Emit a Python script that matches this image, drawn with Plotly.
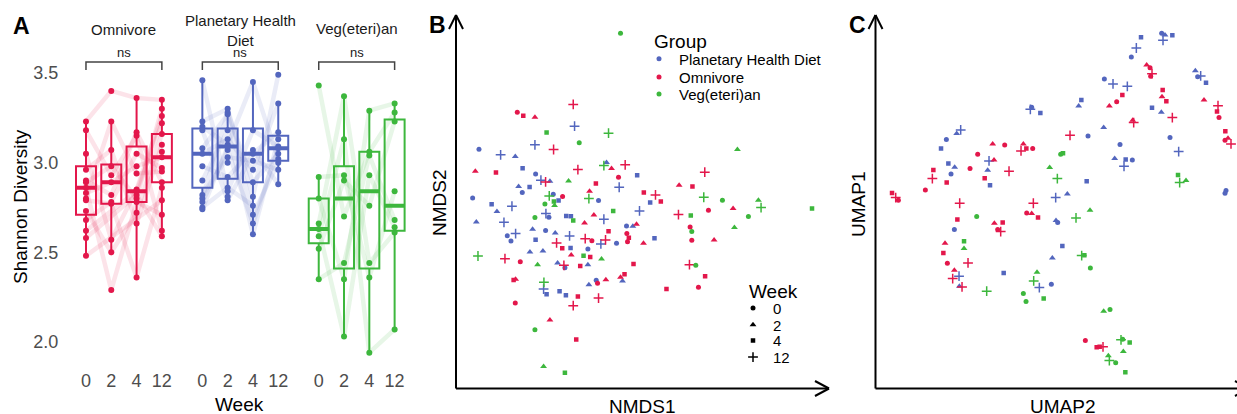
import plotly.graph_objects as go

W, H = 1237, 414
FONT = "Liberation Sans, Arial, Helvetica, sans-serif"

# ---------------- data ----------------
groups = ["Omnivore", "Planetary Health Diet", "Veg(eteri)an"]
colors = {"Omnivore": "#E3174B", "Planetary Health Diet": "#5366BE", "Veg(eteri)an": "#3DB73D"}
facet_titles = ["Omnivore", "Planetary Health<br>Diet", "Veg(eteri)an"]
weeks = [0, 2, 4, 12]
week_labels = ["0", "2", "4", "12"]
y_ticks = [2.0, 2.5, 3.0, 3.5]
sig_labels = ["ns", "ns", "ns"]

# Panel A: per-subject Shannon diversity at weeks 0, 2, 4, 12 (None = missing)
shannon_omnivore = [
    [3.23, 3.40, 3.36, 3.35], [3.18, 2.93, 3.15, 2.62], [3.05, 2.57, 2.85, 3.26],
    [2.96, 3.07, 2.66, 3.10], [2.90, 2.82, 3.17, 2.89], [2.89, 2.98, 2.80, 3.30],
    [2.86, 2.29, 2.78, 2.71], [2.83, 2.89, 2.98, 3.03], [2.80, 3.23, 2.94, 2.95],
    [2.79, 2.77, 2.36, 2.86], [2.73, 2.50, 2.72, 3.16], [2.68, 2.78, 3.05, 2.97],
    [2.62, None, 2.84, 3.22], [2.58, None, 2.82, 2.59], [2.48, None, None, 2.79],
    [None, None, None, 3.06],
]
shannon_phd = [
    [3.46, 2.84, 3.18, 3.09], [3.23, 3.30, 2.81, 3.49], [3.20, 3.10, 3.45, 3.02],
    [3.18, 2.79, 3.05, 3.17], [3.08, 3.27, 2.71, 3.00], [3.05, 3.13, 2.96, 3.33],
    [2.98, 2.92, 3.07, 2.88], [2.90, 3.18, 2.60, 3.13], [2.82, 3.03, 3.01, 2.96],
    [2.80, 3.28, 2.89, 3.05], [2.78, 3.07, 2.66, 3.08], [2.75, 2.86, 2.76, None],
    [2.74, 3.09, None, None], [None, 3.00, None, None], [None, 2.81, None, None],
]
shannon_veg = [
    [3.43, 2.70, 3.06, 3.28], [2.92, 2.93, 2.36, 2.84], [2.80, 2.35, 3.29, 3.33],
    [2.66, 3.37, 2.44, 2.61], [2.63, 2.03, 2.93, 2.64], [2.59, 3.13, 1.94, 2.07],
    [2.52, 2.90, 2.76, 3.23], [2.35, 2.44, 3.04, 2.68],
]
shannon = {"Omnivore": shannon_omnivore, "Planetary Health Diet": shannon_phd,
           "Veg(eteri)an": shannon_veg}

box_q1 = {"Omnivore": [2.71, 2.77, 2.78, 2.89], "Planetary Health Diet": [2.86, 2.91, 2.89, 3.01],
          "Veg(eteri)an": [2.55, 2.41, 2.41, 2.62]}
box_median = {"Omnivore": [2.86, 2.89, 2.84, 3.03], "Planetary Health Diet": [3.05, 3.09, 3.05, 3.08],
              "Veg(eteri)an": [2.63, 2.80, 2.84, 2.76]}
box_q3 = {"Omnivore": [2.98, 2.99, 3.09, 3.16], "Planetary Health Diet": [3.19, 3.19, 3.19, 3.15],
          "Veg(eteri)an": [2.80, 2.98, 3.06, 3.24]}
box_lower = {"Omnivore": [2.48, 2.50, 2.36, 2.59], "Planetary Health Diet": [2.74, 2.79, 2.60, 2.88],
             "Veg(eteri)an": [2.35, 2.03, 1.94, 2.07]}
box_upper = {"Omnivore": [3.23, 3.23, 3.36, 3.35], "Planetary Health Diet": [3.46, 3.30, 3.45, 3.33],
             "Veg(eteri)an": [2.92, 3.37, 3.29, 3.33]}

# Panel B: NMDS ordination (NMDS1, NMDS2, week)
nmds_phd_x = [-0.412, -0.65, -0.986, -0.856, -0.768, -0.724, -0.646, -0.22, -0.036, -0.614, -0.56, -0.144,
              -0.748, -0.682, -0.726, -1.024, -0.54, -0.508, -0.268, 0.042, -0.91, -0.878, -0.788, -0.584,
              -0.566, -0.462, -0.434, -0.022, -1.002, -0.836, -0.236, -0.664, -0.586, -0.528, -0.816,
              -0.766, -0.794, -0.646, -0.442, -0.1, -0.062, 0.068, -0.254, -0.16, -0.436, -0.332, -0.68,
              -0.602, -0.514, -0.47, -0.332, -0.598, -0.58, -0.502, -0.464, -0.282, -0.124, -0.326]
nmds_phd_y = [0.644, 0.532, 0.506, 0.472, 0.462, 0.392, 0.358, 0.426, 0.35, 0.32, 0.314, 0.278,
              0.282, 0.28, 0.246, 0.214, 0.236, 0.198, 0.198, 0.186, 0.176, 0.132, 0.164, 0.12,
              0.098, 0.106, 0.104, 0.136, 0.07, 0.068, 0.086, 0.026, 0.018, 0.004, -0.012,
              0.0, -0.044, -0.036, -0.014, 0.046, 0.044, -0.028, -0.062, -0.058, -0.086, -0.092, -0.11,
              -0.104, -0.176, -0.204, -0.186, -0.332, -0.364, -0.346, -0.37, -0.28, -0.284, -0.306]
nmds_phd_w = [12, 12, 0, 12, 2, 4, 0, 2, 4, 12, 2, 12,
              2, 4, 0, 0, 0, 4, 0, 4, 4, 2, 12, 12,
              0, 4, 4, 12, 2, 12, 12, 2, 0, 2, 0,
              12, 0, 4, 12, 0, 2, 4, 12, 0, 4, 0, 2,
              2, 2, 0, 2, 12, 4, 4, 4, 0, 2, 2]
nmds_omn_x = [-0.756, -0.72, -0.65, -0.42, -0.538, -1.008, -0.884, -0.392, -0.19, -0.108, -0.148, 0.37,
              -0.586, -0.284, 0.216, 0.296, -0.484, -0.322, 0.004, 0.074, 0.106, 0.392, 0.54, -0.352,
              -0.296, 0.212, 0.282, -0.208, -0.04, -0.098, -0.086, -0.094, -0.348, -0.308, -0.226,
              0.002, 0.292, 0.426, -0.52, -0.486, -0.83, -0.738, -0.432, -0.318, -0.476, -0.378,
              -0.058, 0.278, -0.778, -0.766, -0.392, -0.274, -0.224, -0.136, -0.112, -0.268, -0.42,
              0.14, 0.332, 0.372, -0.768, -0.56, -0.402]
nmds_omn_y = [0.728, 0.706, 0.698, 0.774, 0.504, 0.374, 0.366, 0.384, 0.39, 0.412, 0.338, 0.368,
              0.31, 0.3, 0.29, 0.282, 0.222, 0.254, 0.246, 0.232, 0.192, 0.14, 0.15, 0.064,
              0.112, 0.114, 0.04, 0.014, 0.056, 0.0, -0.024, -0.048, -0.03, -0.042, -0.038,
              -0.058, -0.04, -0.038, -0.056, -0.088, -0.15, -0.168, -0.128, -0.14, -0.19, -0.194,
              -0.182, -0.186, -0.278, -0.274, -0.376, -0.298, -0.276, -0.262, -0.244, -0.386, -0.432,
              -0.332, -0.322, -0.256, -0.416, -0.518, -0.634]
nmds_omn_w = [0, 4, 2, 12, 12, 2, 4, 12, 2, 12, 0, 12,
              12, 4, 2, 4, 0, 2, 4, 12, 4, 0, 2, 2,
              2, 12, 0, 4, 2, 0, 4, 0, 12, 0, 12,
              2, 0, 2, 12, 4, 12, 0, 2, 4, 12, 4,
              4, 12, 4, 2, 4, 0, 2, 2, 4, 12, 12,
              4, 0, 4, 0, 2, 4]
nmds_veg_x = [-0.136, -0.58, -0.208, -0.384, 0.566, -0.236, -0.448, -0.564, -0.536, -0.326, 0.364,
              0.476, 0.692, 0.708, 1.014, -0.59, -0.532, -0.65, -0.42, -0.18, 0.632, 0.286, 0.292,
              0.548, -0.992, -0.358, -0.25, -0.634, 0.316, -0.596, -0.65, -0.598, -0.47]
nmds_veg_y = [1.2, 0.606, 0.602, 0.544, 0.504, 0.408, 0.316, 0.226, 0.192, 0.21, 0.218,
              0.2, 0.2, 0.156, 0.15, 0.178, 0.168, 0.096, 0.078, 0.136, 0.102, 0.108, 0.012,
              0.036, -0.134, -0.132, -0.152, -0.186, -0.19, -0.292, -0.576, -0.796, -0.834]
nmds_veg_w = [0, 4, 12, 0, 2, 12, 2, 12, 4, 12, 12,
              0, 2, 12, 4, 0, 2, 0, 4, 4, 0, 4, 0,
              2, 12, 4, 2, 2, 0, 12, 0, 2, 4]

# Panel C: UMAP embedding (UMAP2 horizontal, UMAP1 vertical, week)
umap_phd_x = [8.03, 8.65, 8.75, 8.97, 8.69, 7.89, 7.74, 9.66, 9.82, 9.73, 9.98, 6.93, 7.19, 7.62,
              6.24, 6.16, 4.75, 4.71, 5.01, 8.36, 8.64, 6.91, 6.44, 2.62, 2.5, 2.19, 2.03, 7.4, 8.9,
              9.16, 3.47, 2.25, 2.44, 2.33, 3.43, 3.5, 7.24, 7.57, 7.77, 7.52, 6.4, 10.58, 10.55,
              5.47, 5.82, 5.48, 5.53, 2.43, 5.67, 5.37, 2.57, 3.91, 4.98, 5.34, 2.58]
umap_phd_y = [10.88, 11.0, 10.95, 10.94, 10.79, 10.56, 10.29, 9.88, 9.72, 9.7, 9.52, 9.63, 9.48, 9.41,
              9.0, 8.82, 8.78, 8.72, 8.61, 8.77, 8.63, 8.17, 7.92, 8.1, 7.99, 7.81, 7.54, 7.66, 7.87,
              7.45, 7.17, 7.09, 6.98, 6.78, 6.89, 6.44, 7.24, 7.21, 7.2, 7.01, 6.56, 6.28, 6.2,
              6.07, 6.18, 5.38, 5.32, 5.11, 4.62, 4.26, 3.71, 3.81, 3.37, 3.47, 3.41]
umap_phd_w = [4, 0, 2, 4, 12, 12, 0, 2, 12, 0, 4, 0, 12, 12,
              4, 2, 0, 12, 4, 4, 2, 2, 0, 12, 2, 0, 4, 0, 0,
              12, 12, 4, 2, 0, 2, 4, 2, 4, 0, 12, 4, 0, 0,
              12, 2, 2, 0, 0, 4, 2, 12, 4, 12, 0, 2]
umap_omn_x = [8.2, 8.3, 8.36, 8.32, 8.68, 8.66, 8.79, 7.47, 7.3, 7.08, 8.97, 9.92, 10.34, 10.31, 10.37,
              10.56, 10.64, 10.55, 10.73, 7.78, 7.81, 5.9, 3.58, 3.94, 4.5, 4.59, 4.78, 4.43, 3.13,
              3.62, 1.8, 1.77, 2.9, 4.07, 3.34, 2.2, 1.56, 0.56, 0.67, 0.75, 2.59, 4.8, 4.6, 4.75,
              4.94, 2.52, 3.63, 3.88, 3.73, 3.82, 2.15, 2.1, 2.22, 2.84, 2.43, 2.38, 2.66, 6.36,
              6.7, 6.89, 6.79]
umap_omn_y = [10.05, 9.97, 9.79, 9.71, 9.3, 9.1, 8.96, 9.15, 8.95, 8.82, 8.47, 9.0, 8.83, 8.65, 8.47,
              8.06, 7.85, 7.79, 7.68, 8.39, 8.32, 7.94, 7.68, 7.65, 7.68, 7.54, 7.54, 7.47, 7.37,
              7.2, 6.9, 6.64, 6.94, 6.86, 6.65, 6.52, 6.3, 6.21, 6.07, 5.99, 5.9, 5.9, 5.61, 5.59,
              5.47, 5.41, 5.3, 5.32, 5.11, 5.05, 4.7, 4.41, 4.1, 4.11, 3.89, 3.64, 3.39, 1.78,
              1.58, 1.59, 1.59]
umap_omn_w = [2, 0, 12, 0, 4, 2, 4, 4, 0, 2, 12, 2, 12, 4, 0,
              4, 2, 0, 12, 2, 12, 12, 2, 0, 2, 4, 0, 12, 0,
              2, 4, 12, 0, 12, 4, 4, 0, 4, 12, 0, 12, 12, 0, 2,
              4, 4, 2, 4, 0, 12, 2, 4, 0, 12, 2, 12, 12, 0,
              4, 12, 4]
umap_veg_x = [5.69, 5.62, 5.29, 5.52, 9.14, 9.19, 9.38, 3.1, 6.08, 6.5, 2.72, 2.72, 6.25, 6.33, 6.51,
              4.91, 4.81, 3.4, 4.5, 4.58, 5.11, 6.91, 7.1, 7.43, 7.48, 7.69, 7.5, 7.05, 7.08, 7.27, 7.56]
umap_veg_y = [7.4, 7.37, 6.97, 6.64, 6.75, 6.52, 6.58, 5.5, 5.46, 5.69, 4.76, 4.54, 4.33, 4.34, 3.96,
              3.83, 3.57, 3.26, 3.19, 2.95, 3.04, 2.66, 2.71, 1.8, 1.82, 1.72, 1.45, 1.32, 1.18, 1.11, 0.83]
umap_veg_w = [4, 0, 2, 12, 4, 12, 2, 0, 12, 2, 4, 2, 12, 4, 0,
              2, 12, 12, 0, 0, 4, 2, 0, 12, 0, 4, 2, 2, 12, 0, 4]

nmds = {"Planetary Health Diet": (nmds_phd_x, nmds_phd_y, nmds_phd_w),
        "Omnivore": (nmds_omn_x, nmds_omn_y, nmds_omn_w),
        "Veg(eteri)an": (nmds_veg_x, nmds_veg_y, nmds_veg_w)}
umap = {"Planetary Health Diet": (umap_phd_x, umap_phd_y, umap_phd_w),
        "Omnivore": (umap_omn_x, umap_omn_y, umap_omn_w),
        "Veg(eteri)an": (umap_veg_x, umap_veg_y, umap_veg_w)}
legend_groups = ["Planetary Health Diet", "Omnivore", "Veg(eteri)an"]

# ---------------- styling / layout helpers ----------------
def px(x):
    return x / W

def py(y):
    return 1 - y / H

def rgba(hexc, a):
    h = hexc.lstrip("#")
    return f"rgba({int(h[0:2],16)},{int(h[2:4],16)},{int(h[4:6],16)},{a})"

week_style = {0: ("circle", 5, 0), 2: ("triangle-up", 6, 0), 4: ("square", 4.5, 0), 12: ("cross-thin", 7, 1.5)}
facet_offset = [0.0, 4.6, 9.2]
box_w = 0.79

fig = go.Figure()

# ---------------- Panel A ----------------
for gi, g in enumerate(groups):
    c = colors[g]
    pos = [facet_offset[gi] + i for i in range(len(weeks))]
    # subject trajectories
    lx, ly = [], []
    for subj in shannon[g]:
        pts = [(pos[i], v) for i, v in enumerate(subj) if v is not None]
        if len(pts) > 1:
            lx += [p[0] for p in pts] + [None]
            ly += [p[1] for p in pts] + [None]
    fig.add_trace(go.Scatter(x=lx, y=ly, mode="lines", line=dict(color=rgba(c, 0.12), width=4.5),
                             hoverinfo="skip", showlegend=False, xaxis="x", yaxis="y"))
    # boxes
    fig.add_trace(go.Box(x=pos, q1=box_q1[g], median=box_median[g], q3=box_q3[g],
                         lowerfence=box_lower[g], upperfence=box_upper[g], orientation="v",
                         width=box_w, whiskerwidth=0, boxpoints=False,
                         line=dict(color=c, width=2), fillcolor="rgba(255,255,255,0)",
                         hoverinfo="skip", showlegend=False, xaxis="x", yaxis="y"))
    # thick median bars
    mx, my = [], []
    for p, m in zip(pos, box_median[g]):
        mx += [p - box_w / 2, p + box_w / 2, None]
        my += [m, m, None]
    fig.add_trace(go.Scatter(x=mx, y=my, mode="lines", line=dict(color=c, width=4),
                             hoverinfo="skip", showlegend=False, xaxis="x", yaxis="y"))
    # points
    ptx, pty = [], []
    for subj in shannon[g]:
        for i, v in enumerate(subj):
            if v is not None:
                ptx.append(pos[i]); pty.append(v)
    fig.add_trace(go.Scatter(x=ptx, y=pty, mode="markers", marker=dict(color=c, size=6),
                             hoverinfo="skip", showlegend=False, xaxis="x", yaxis="y"))

# ---------------- Panels B & C ----------------
def add_scatter(data, xa, ya):
    for g in legend_groups:
        xs, ys, ws = data[g]
        for wk in weeks:
            sx = [x for x, w in zip(xs, ws) if w == wk]
            sy = [y for y, w in zip(ys, ws) if w == wk]
            sym, size, lw = week_style[wk]
            fig.add_trace(go.Scatter(
                x=sx, y=sy, mode="markers", xaxis=xa, yaxis=ya, showlegend=False, hoverinfo="skip",
                marker=dict(symbol=sym, size=size, color=colors[g],
                            line=dict(color=colors[g], width=lw))))

add_scatter(nmds, "x2", "y2")
add_scatter(umap, "x3", "y3")

# legend entries (one legend box per entry to mimic ggplot spacing)
legend_layouts = {}
group_rows = [59, 77.3, 94.3]
for i, g in enumerate(legend_groups):
    lname = "legend" if i == 0 else f"legend{i+1}"
    fig.add_trace(go.Scatter(x=[None], y=[None], mode="markers", name=g, legend=lname,
                             marker=dict(symbol="circle", size=5, color=colors[g]),
                             xaxis="x2", yaxis="y2", showlegend=True))
    legend_layouts[lname] = dict(x=px(639), y=py(group_rows[i]), xanchor="left", yanchor="middle",
                                 bgcolor="rgba(0,0,0,0)", font=dict(family=FONT, size=15, color="black"),
                                 itemclick=False, itemdoubleclick=False)
week_rows = [308.3, 325, 340.7, 357.3]
for i, wk in enumerate(weeks):
    lname = f"legend{i+4}"
    sym, size, lw = week_style[wk]
    fig.add_trace(go.Scatter(x=[None], y=[None], mode="markers", name=week_labels[i], legend=lname,
                             marker=dict(symbol=sym, size=size, color="black",
                                         line=dict(color="black", width=lw)),
                             xaxis="x2", yaxis="y2", showlegend=True))
    legend_layouts[lname] = dict(x=px(733), y=py(week_rows[i]), xanchor="left", yanchor="middle",
                                 bgcolor="rgba(0,0,0,0)", font=dict(family=FONT, size=15, color="black"),
                                 itemclick=False, itemdoubleclick=False)

# ---------------- axes ----------------
hidden = dict(visible=False, showgrid=False, zeroline=False)
tickvals_a = [facet_offset[gi] + i for gi in range(3) for i in range(4)]
ticktext_a = week_labels * 3

layout = dict(
    width=W, height=H, margin=dict(l=0, r=0, t=0, b=0),
    paper_bgcolor="white", plot_bgcolor="white",
    font=dict(family=FONT, color="black"),
    xaxis=dict(domain=[px(70.8), px(409.8)], range=[-0.6, 12.8], tickvals=tickvals_a,
               ticktext=ticktext_a, showgrid=False, zeroline=False, showline=False,
               ticks="", tickfont=dict(family=FONT, size=18, color="#4D4D4D"), anchor="y"),
    yaxis=dict(domain=[py(368), py(45)], range=[1.8547, 3.656], tickvals=y_ticks,
               ticktext=[f"{v:.1f}" for v in y_ticks], showgrid=False, zeroline=False,
               showline=False, ticks="outside", ticklen=8, tickcolor="rgba(0,0,0,0)",
               tickfont=dict(family=FONT, size=18, color="#4D4D4D"), anchor="x"),
    xaxis2=dict(domain=[px(456), px(829)], range=[-1.124, 1.116], anchor="y2", **hidden),
    yaxis2=dict(domain=[py(388.5), py(18)], range=[-0.928, 1.292], anchor="x2", **hidden),
    xaxis3=dict(domain=[px(875.7), 1.0], range=[0.07, 10.91], anchor="y3", **hidden),
    yaxis3=dict(domain=[py(388.5), py(18)], range=[0.34, 11.46], anchor="x3", **hidden),
)
layout.update(legend_layouts)
fig.update_layout(**layout)

# ---------------- shapes ----------------
shapes = []
# significance brackets
for gi in range(3):
    x0 = facet_offset[gi]
    x1 = facet_offset[gi] + 3
    shapes.append(dict(type="path", xref="x", yref="y",
                       path=f"M {x0},3.517 L {x0},3.561 L {x1},3.561 L {x1},3.517",
                       line=dict(color="#444444", width=1.5)))

def seg(x0, y0, x1, y1, w=2):
    return dict(type="line", xref="paper", yref="paper", x0=px(x0), y0=py(y0), x1=px(x1), y1=py(y1),
                line=dict(color="black", width=w))

for ax_x, tip_x in [(456, 829), (875.5, 1249)]:
    shapes.append(seg(ax_x, 388.5, ax_x, 15))
    shapes.append(seg(ax_x, 15, ax_x - 7, 29))
    shapes.append(seg(ax_x, 15, ax_x + 7, 29))
    shapes.append(seg(ax_x, 388.5, tip_x, 388.5))
    shapes.append(seg(tip_x, 388.5, tip_x - 14, 381))
    shapes.append(seg(tip_x, 388.5, tip_x - 14, 396))
fig.update_layout(shapes=shapes)

# ---------------- annotations ----------------
ann = []
def text(x, y, s, size, bold=False, color="black", xanchor="center", yanchor="middle", angle=0):
    ann.append(dict(x=px(x), y=py(y), xref="paper", yref="paper", text=f"<b>{s}</b>" if bold else s,
                    showarrow=False, xanchor=xanchor, yanchor=yanchor, textangle=angle,
                    font=dict(family=FONT, size=size, color=color)))

text(21, 26, "A", 23, bold=True)
text(437, 25, "B", 23, bold=True)
text(857, 25, "C", 23, bold=True)
text(20, 207, "Shannon Diversity", 19, angle=-90)
text(240, 404, "Week", 19)
text(440, 203, "NMDS2", 19, angle=-90)
text(642, 406, "NMDS1", 19)
text(858, 205, "UMAP1", 19, angle=-90)
text(1062, 406, "UMAP2", 19)
text(652, 41.7, "Group", 19, xanchor="left")
text(746.7, 291.7, "Week", 19, xanchor="left")
strip_y = [30, 30.5, 29]
for gi in range(3):
    cx = 86 + 25.3 * (facet_offset[gi] + 1.5)
    text(cx, strip_y[gi], facet_titles[gi], 15, color="#1A1A1A")
    ann.append(dict(x=facet_offset[gi] + 1.5, y=3.561, xref="x", yref="y", text=sig_labels[gi],
                    showarrow=False, xanchor="center", yanchor="bottom", yshift=0,
                    font=dict(family=FONT, size=13, color="#1A1A1A")))
fig.update_layout(annotations=ann)

fig.write_html("out.html", config={"displayModeBar": False},
               post_script="document.body.style.margin='0px';")
